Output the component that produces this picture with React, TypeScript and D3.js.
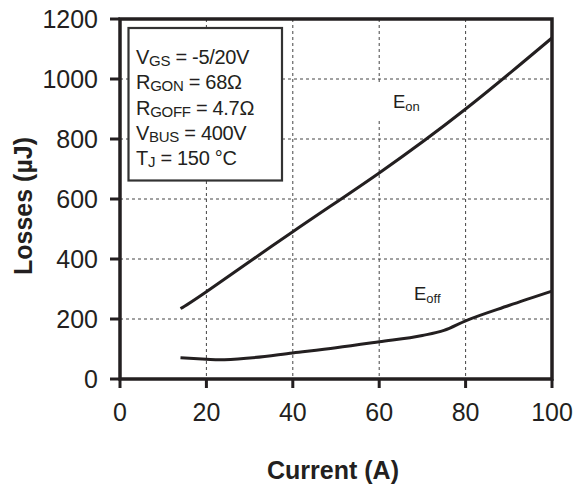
import * as d3 from "d3"

const currents = [14, 20, 40, 60, 80, 100]
const eonLosses = [235, 291, 491, 687, 900, 1137]

const eoffCurrents = [14, 20, 23, 30, 40, 50, 60, 70, 75, 80, 90, 100]
const eoffLosses = [71, 66, 64, 70, 87, 104, 124, 145, 162, 194, 245, 293]

const xTicks = [0, 20, 40, 60, 80, 100]
const yTicks = [0, 200, 400, 600, 800, 1000, 1200]

const conditions = [
  { main: "V", sub: "GS", rest: " = -5/20V" },
  { main: "R", sub: "GON", rest: " = 68Ω" },
  { main: "R", sub: "GOFF", rest: " = 4.7Ω" },
  { main: "V", sub: "BUS", rest: " =  400V" },
  { main: "T", sub: "J", rest: " = 150 °C" },
]

const W = 576
const H = 485
const ink = "#231f20"
const font = "'Liberation Sans', Arial, sans-serif"

export default function App() {
  const x = d3.scaleLinear().domain([0, 100]).range([120, 552])
  const y = d3.scaleLinear().domain([0, 1200]).range([379, 19])

  const smooth = d3
    .line<[number, number]>()
    .x((d) => x(d[0]))
    .y((d) => y(d[1]))
    .curve(d3.curveNatural)

  const line = d3
    .line<[number, number]>()
    .x((d) => x(d[0]))
    .y((d) => y(d[1]))
    .curve(d3.curveMonotoneX)

  const eon = currents.map((c, i) => [c, eonLosses[i]] as [number, number])
  const eoff = eoffCurrents.map((c, i) => [c, eoffLosses[i]] as [number, number])

  const [x0, x1] = x.range()
  const [y0, y1] = y.range()

  return (
    <svg
      width={W}
      height={H}
      style={{ position: "absolute", left: 0, top: 0, background: "#fff" }}
      fontFamily={font}
    >
      <rect width={W} height={H} fill="#fff" />

      {/* grid */}
      <g stroke="#444" strokeWidth={1} strokeDasharray="3,3">
        {xTicks.slice(1, -1).map((t) => (
          <line key={"gx" + t} x1={x(t)} x2={x(t)} y1={y1} y2={y0} />
        ))}
        {yTicks.slice(1, -1).map((t) => (
          <line key={"gy" + t} x1={x0} x2={x1} y1={y(t)} y2={y(t)} />
        ))}
      </g>
      {/* gap in the 60 A gridline next to the Eon label */}
      <rect x={x(60) - 2} y={y(990)} width={4} height={y(870) - y(990)} fill="#fff" />

      {/* conditions box */}
      <rect x={128.5} y={28} width={153.5} height={152.5} fill="#fff" stroke="#333" strokeWidth={2.2} />
      <g fill={ink} fontSize={20}>
        {conditions.map((c, i) => (
          <text key={c.sub} x={136} y={64 + i * 25.3} letterSpacing={-0.3}>
            {c.main}
            <tspan fontSize={15} dy={2}>{c.sub}</tspan>
            <tspan dy={-2}>{c.rest}</tspan>
          </text>
        ))}
      </g>

      {/* curves */}
      <path d={smooth(eon) ?? ""} fill="none" stroke={ink} strokeWidth={3} />
      <path d={line(eoff) ?? ""} fill="none" stroke={ink} strokeWidth={3} />

      <text x={393} y={108} fontSize={18.5} fill={ink}>
        E<tspan fontSize={13} dy={3}>on</tspan>
      </text>
      <text x={414} y={300} fontSize={18.5} fill={ink}>
        E<tspan fontSize={13} dy={3}>off</tspan>
      </text>

      {/* frame */}
      <rect x={x0} y={y1} width={x1 - x0} height={y0 - y1} fill="none" stroke={ink} strokeWidth={3.5} />

      {/* ticks */}
      <g stroke={ink} strokeWidth={3}>
        {xTicks.map((t) => (
          <line key={"tx" + t} x1={x(t)} x2={x(t)} y1={y0} y2={y0 + 9} />
        ))}
        {yTicks.map((t) => (
          <line key={"ty" + t} x1={x0 - 10} x2={x0} y1={y(t)} y2={y(t)} />
        ))}
      </g>

      <g fill={ink} fontSize={25}>
        {xTicks.map((t) => (
          <text key={"lx" + t} x={x(t)} y={421} textAnchor="middle">
            {t}
          </text>
        ))}
        {yTicks.map((t) => (
          <text key={"ly" + t} x={98} y={y(t) + 9} textAnchor="end">
            {t}
          </text>
        ))}
      </g>

      <text
        x={333}
        y={479}
        textAnchor="middle"
        fontSize={25}
        fontWeight="bold"
        fill={ink}
      >
        Current (A)
      </text>
      <text
        transform={`translate(32,${206}) rotate(-90)`}
        textAnchor="middle"
        fontSize={25}
        fontWeight="bold"
        fill={ink}
      >
        Losses (µJ)
      </text>
    </svg>
  )
}
